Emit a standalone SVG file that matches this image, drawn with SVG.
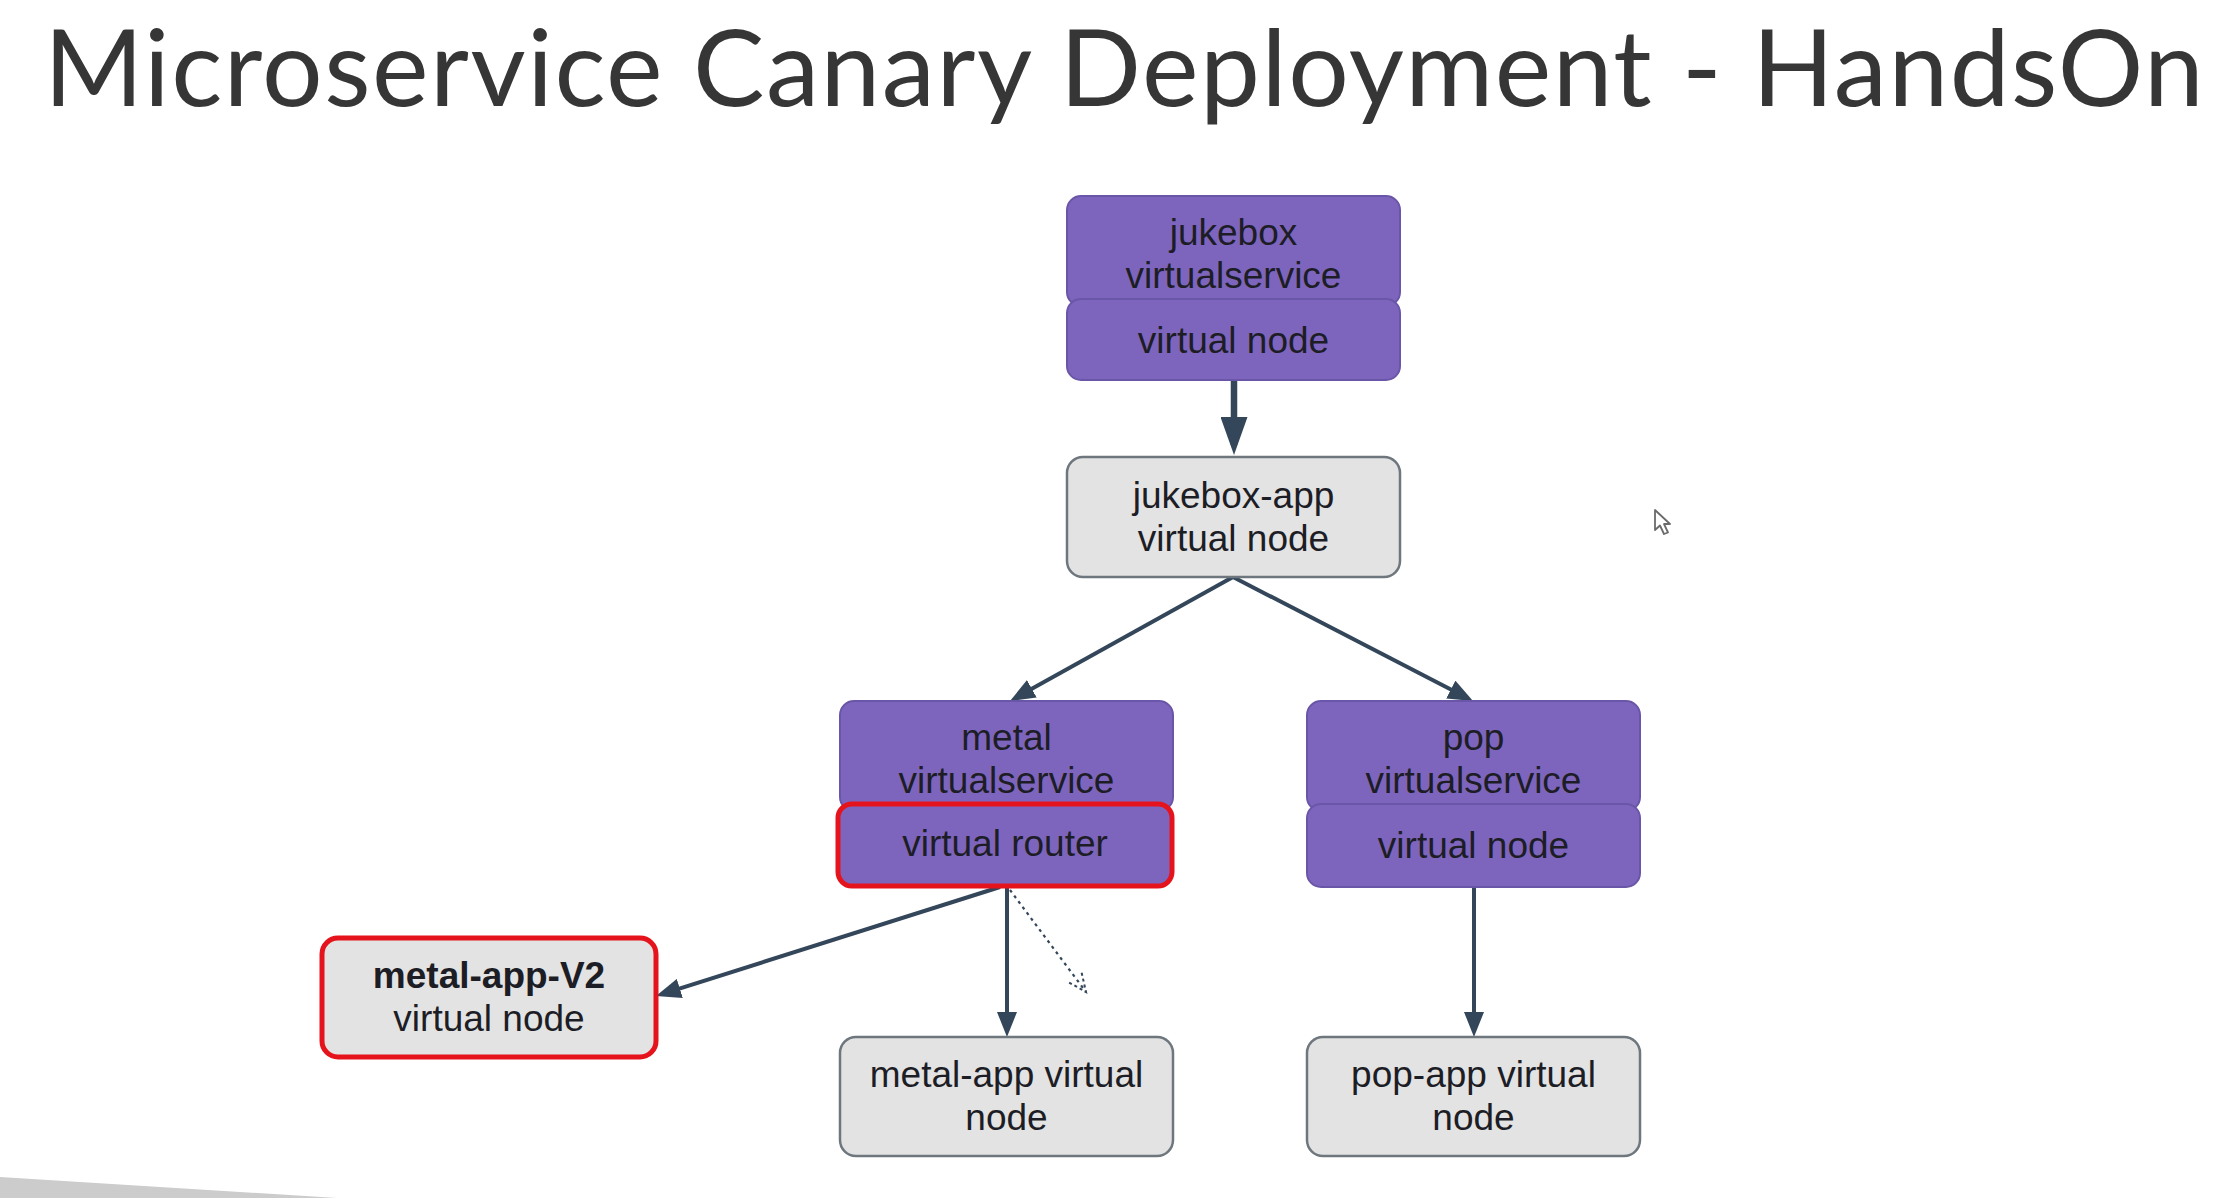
<svg xmlns="http://www.w3.org/2000/svg" width="2240" height="1198" viewBox="0 0 2240 1198">
  <style>
    .title { font-family: "Lato", "Open Sans", "Liberation Sans", sans-serif; font-size: 107px; letter-spacing: 1.5px; fill: #363636; }
    .lbl { font-family: "Liberation Sans", Arial, sans-serif; font-size: 37px; fill: #1d1d26; text-anchor: middle; }
    .bold { font-weight: bold; }
    .svc { fill: #7d65be; stroke: #6a56a8; stroke-width: 2; }
    .app { fill: #e3e3e3; stroke: #6e767e; stroke-width: 2.5; }
    .hl { stroke: #e5141c; stroke-width: 5; }
    .edge { stroke: #34465a; stroke-width: 4; fill: none; }
    .edge.thick { stroke-width: 6.5; }
    .edge.dot { stroke-width: 2.2; stroke-dasharray: 3 4; }
  </style>
  <defs>
    <marker id="headBig" markerUnits="userSpaceOnUse" markerWidth="38" markerHeight="27" refX="28" refY="13.5" orient="auto">
      <path d="M0,0 L38,13.5 L0,27 Z" fill="#34465a"/>
    </marker>
    <marker id="head" markerUnits="userSpaceOnUse" markerWidth="25" markerHeight="20" refX="17" refY="10" orient="auto">
      <path d="M0,0 L25,10 L0,20 Z" fill="#34465a"/>
    </marker>
    <marker id="headDot" markerUnits="userSpaceOnUse" markerWidth="24" markerHeight="20" refX="20" refY="10" orient="auto">
      <path d="M2,2 L20,10 L2,18" fill="none" stroke="#34465a" stroke-width="2" stroke-dasharray="3 3"/>
    </marker>
  </defs>

  <rect width="2240" height="1198" fill="#ffffff"/>

  <!-- slide footer wedge -->
  <polygon points="0,1177 337,1198 0,1198" fill="#cccccc"/>

  <!-- slide title -->
  <text class="title" x="44" y="106">Microservice Canary Deployment - HandsOn</text>

  <!-- connectors -->
  <g id="connectors">
    <line class="edge thick" x1="1234" y1="380" x2="1234" y2="445" marker-end="url(#headBig)"/>
    <line class="edge" x1="1233" y1="577" x2="1017" y2="697.1" marker-end="url(#head)"/>
    <line class="edge" x1="1233" y1="577" x2="1465.9" y2="697.3" marker-end="url(#head)"/>
    <line class="edge" x1="1000" y1="887" x2="663.6" y2="993.6" marker-end="url(#head)"/>
    <line class="edge" x1="1007" y1="887" x2="1007" y2="1029" marker-end="url(#head)"/>
    <line class="edge dot" x1="1010" y1="890" x2="1086" y2="992" marker-end="url(#headDot)"/>
    <line class="edge" x1="1474" y1="887" x2="1474" y2="1029" marker-end="url(#head)"/>
  </g>

  <!-- jukebox virtual service with its virtual node -->
  <g id="jukebox-service">
    <rect class="svc" x="1067" y="196" width="333" height="110" rx="14"/>
    <rect class="svc" x="1067" y="299" width="333" height="81" rx="14"/>
    <text class="lbl" x="1233.5" y="245">jukebox</text>
    <text class="lbl" x="1233.5" y="288">virtualservice</text>
    <text class="lbl" x="1233.5" y="353">virtual node</text>
  </g>

  <g id="jukebox-app">
    <rect class="app" x="1067" y="457" width="333" height="120" rx="16"/>
    <text class="lbl" x="1233.5" y="508">jukebox-app</text>
    <text class="lbl" x="1233.5" y="551">virtual node</text>
  </g>

  <!-- metal virtual service with its virtual router -->
  <g id="metal-service">
    <rect class="svc" x="840" y="701" width="333" height="110" rx="14"/>
    <rect class="svc hl" x="838" y="804" width="334" height="82" rx="14"/>
    <text class="lbl" x="1006.5" y="750">metal</text>
    <text class="lbl" x="1006.5" y="793">virtualservice</text>
    <text class="lbl" x="1005" y="856">virtual router</text>
  </g>

  <!-- pop virtual service with its virtual node -->
  <g id="pop-service">
    <rect class="svc" x="1307" y="701" width="333" height="110" rx="14"/>
    <rect class="svc" x="1307" y="804" width="333" height="83" rx="14"/>
    <text class="lbl" x="1473.5" y="750">pop</text>
    <text class="lbl" x="1473.5" y="793">virtualservice</text>
    <text class="lbl" x="1473.5" y="858">virtual node</text>
  </g>

  <g id="metal-app-v2">
    <rect class="app hl" x="322" y="938" width="334" height="119" rx="16"/>
    <text class="lbl bold" x="489" y="988">metal-app-V2</text>
    <text class="lbl" x="489" y="1031">virtual node</text>
  </g>

  <g id="metal-app">
    <rect class="app" x="840" y="1037" width="333" height="119" rx="16"/>
    <text class="lbl" x="1006.5" y="1087">metal-app virtual</text>
    <text class="lbl" x="1006.5" y="1130">node</text>
  </g>

  <g id="pop-app">
    <rect class="app" x="1307" y="1037" width="333" height="119" rx="16"/>
    <text class="lbl" x="1473.5" y="1087">pop-app virtual</text>
    <text class="lbl" x="1473.5" y="1130">node</text>
  </g>

  <!-- mouse pointer -->
  <path d="M1655,510 L1655,530 L1660,525.5 L1664,534 L1668,532.5 L1664,524 L1670,524 Z" fill="#ffffff" stroke="#6a6a6a" stroke-width="1.8" stroke-linejoin="round"/>
</svg>
